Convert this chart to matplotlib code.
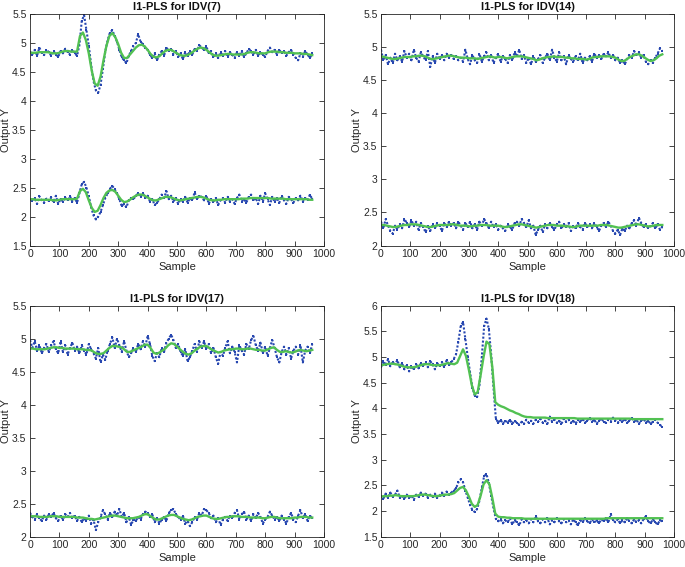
import numpy as np
import matplotlib
matplotlib.use("Agg")
import matplotlib.pyplot as plt
from matplotlib.ticker import FuncFormatter, MultipleLocator

plt.rcParams['font.family'] = ['Liberation Sans', 'DejaVu Sans']

titles = ["l1-PLS for IDV(7)", "l1-PLS for IDV(14)", "l1-PLS for IDV(17)", "l1-PLS for IDV(18)"]
ylims = [(1.5, 5.5), (2.0, 5.5), (2.0, 5.5), (1.5, 6.0)]

# ---------------- IDV(7) ----------------
idv7_up_fit = [4.83, 4.83, 4.83, 4.84, 4.84, 4.84, 4.84, 4.83, 4.82, 4.82,
               4.83, 4.85, 4.86, 4.86, 4.85, 4.85, 4.85, 5.12, 5.18, 5.05,
               4.82, 4.52, 4.30, 4.26, 4.42, 4.70, 4.95, 5.12, 5.17, 5.10,
               4.98, 4.83, 4.74, 4.74, 4.80, 4.86, 4.92, 4.96, 4.97, 4.94,
               4.88, 4.81, 4.76, 4.75, 4.77, 4.82, 4.86, 4.88, 4.88, 4.85,
               4.82, 4.79, 4.78, 4.78, 4.80, 4.83, 4.87, 4.90, 4.92, 4.91,
               4.88, 4.84, 4.80, 4.78, 4.78, 4.79, 4.80, 4.81, 4.81, 4.80,
               4.80, 4.80, 4.80, 4.81, 4.83, 4.84, 4.84, 4.83, 4.82, 4.82,
               4.82, 4.84, 4.85, 4.85, 4.85, 4.84, 4.84, 4.83, 4.83, 4.83,
               4.82, 4.82, 4.82, 4.81, 4.81, 4.80, 4.79]
idv7_up_meas = [4.85, 4.80, 4.88, 4.78, 4.92, 4.83, 4.79, 4.88, 4.84, 4.78,
                4.86, 4.80, 4.76, 4.86, 4.82, 4.90, 4.84, 4.80, 4.88, 4.82,
                4.78, 4.96, 5.38, 5.48, 5.22, 4.95, 4.62, 4.34, 4.18, 4.14,
                4.28, 4.55, 4.85, 5.05, 5.18, 5.22, 5.12, 5.02, 4.88, 4.75,
                4.70, 4.65, 4.78, 4.86, 4.95, 5.00, 5.15, 5.02, 4.98, 4.92,
                4.88, 4.80, 4.74, 4.82, 4.70, 4.80, 4.86, 4.78, 4.92, 4.86,
                4.90, 4.80, 4.86, 4.76, 4.82, 4.72, 4.84, 4.78, 4.86, 4.80,
                4.90, 4.86, 4.96, 4.92, 4.88, 4.94, 4.82, 4.86, 4.76, 4.82,
                4.74, 4.84, 4.78, 4.86, 4.76, 4.84, 4.80, 4.74, 4.84, 4.78,
                4.86, 4.76, 4.82, 4.90, 4.86, 4.80, 4.88, 4.78, 4.84, 4.80,
                4.76, 4.86, 4.92, 4.84, 4.88, 4.80, 4.88, 4.82, 4.86, 4.78,
                4.84, 4.88, 4.80, 4.74, 4.70, 4.82, 4.76, 4.86, 4.80, 4.74,
                4.82]
idv7_lo_fit = [2.30, 2.30, 2.29, 2.29, 2.29, 2.29, 2.29, 2.29, 2.28, 2.28,
               2.29, 2.30, 2.30, 2.30, 2.30, 2.30, 2.31, 2.44, 2.48, 2.42,
               2.28, 2.15, 2.08, 2.10, 2.20, 2.32, 2.41, 2.45, 2.46, 2.43,
               2.36, 2.29, 2.25, 2.26, 2.29, 2.33, 2.36, 2.38, 2.38, 2.36,
               2.33, 2.30, 2.28, 2.28, 2.30, 2.32, 2.34, 2.34, 2.33, 2.31,
               2.29, 2.28, 2.29, 2.30, 2.31, 2.32, 2.33, 2.34, 2.34, 2.33,
               2.31, 2.29, 2.28, 2.28, 2.29, 2.29, 2.30, 2.30, 2.30, 2.30,
               2.30, 2.30, 2.31, 2.31, 2.31, 2.32, 2.32, 2.32, 2.32, 2.32,
               2.32, 2.32, 2.31, 2.31, 2.31, 2.31, 2.31, 2.30, 2.30, 2.30,
               2.30, 2.30, 2.30, 2.30, 2.30, 2.29, 2.29]
idv7_lo_meas = [2.30, 2.27, 2.32, 2.22, 2.35, 2.28, 2.24, 2.31, 2.27, 2.33,
                2.25, 2.36, 2.22, 2.30, 2.26, 2.33, 2.28, 2.35, 2.26, 2.32,
                2.24, 2.40, 2.56, 2.60, 2.50, 2.35, 2.16, 2.02, 1.95, 2.00,
                2.08, 2.20, 2.32, 2.40, 2.48, 2.53, 2.47, 2.40, 2.30, 2.18,
                2.22, 2.16, 2.28, 2.32, 2.30, 2.36, 2.40, 2.34, 2.40, 2.32,
                2.36, 2.26, 2.30, 2.20, 2.24, 2.30, 2.38, 2.32, 2.44, 2.30,
                2.36, 2.26, 2.32, 2.22, 2.30, 2.26, 2.34, 2.24, 2.32, 2.28,
                2.42, 2.30, 2.36, 2.34, 2.28, 2.36, 2.22, 2.30, 2.26, 2.32,
                2.20, 2.28, 2.32, 2.24, 2.34, 2.26, 2.30, 2.22, 2.32, 2.38,
                2.26, 2.30, 2.24, 2.34, 2.38, 2.28, 2.32, 2.22, 2.36, 2.26,
                2.40, 2.30, 2.20, 2.34, 2.26, 2.32, 2.24, 2.36, 2.28, 2.22,
                2.34, 2.30, 2.24, 2.32, 2.28, 2.36, 2.26, 2.32, 2.28, 2.38,
                2.30]

# ---------------- IDV(14) ----------------
idv14_up_fit = [4.86, 4.85, 4.84, 4.83, 4.82, 4.82, 4.83, 4.84, 4.85, 4.85,
                4.85, 4.86, 4.86, 4.87, 4.87, 4.86, 4.84, 4.82, 4.82, 4.83,
                4.84, 4.85, 4.86, 4.87, 4.87, 4.86, 4.85, 4.84, 4.84, 4.84,
                4.83, 4.83, 4.83, 4.82, 4.83, 4.84, 4.85, 4.86, 4.85, 4.84,
                4.85, 4.85, 4.84, 4.83, 4.84, 4.85, 4.86, 4.86, 4.86, 4.85,
                4.84, 4.83, 4.82, 4.80, 4.81, 4.83, 4.84, 4.85, 4.85, 4.86,
                4.85, 4.85, 4.85, 4.84, 4.84, 4.83, 4.83, 4.82, 4.82, 4.82,
                4.81, 4.82, 4.84, 4.85, 4.85, 4.86, 4.86, 4.86, 4.86, 4.85,
                4.84, 4.81, 4.79, 4.79, 4.82, 4.85, 4.87, 4.89, 4.89, 4.87,
                4.84, 4.81, 4.79, 4.80, 4.83, 4.87, 4.89]
idv14_up_meas = [4.96, 4.80, 4.88, 4.74, 4.84, 4.76, 4.90, 4.80, 4.86, 4.78,
                 4.94, 4.84, 4.90, 4.80, 4.96, 4.84, 4.78, 4.92, 4.86, 4.80,
                 4.94, 4.70, 4.86, 4.76, 4.90, 4.82, 4.88, 4.80, 4.90, 4.84,
                 4.88, 4.82, 4.86, 4.80, 4.84, 4.78, 4.96, 4.82, 4.74, 4.88,
                 4.80, 4.76, 4.90, 4.78, 4.86, 4.92, 4.80, 4.88, 4.76, 4.84,
                 4.90, 4.78, 4.86, 4.82, 4.76, 4.88, 4.80, 4.92, 4.86, 4.96,
                 4.82, 4.88, 4.76, 4.84, 4.74, 4.86, 4.78, 4.82, 4.88, 4.76,
                 4.84, 4.90, 4.80, 4.96, 4.84, 4.78, 4.92, 4.80, 4.86, 4.74,
                 4.88, 4.82, 4.78, 4.86, 4.80, 4.90, 4.76, 4.84, 4.80, 4.86,
                 4.78, 4.90, 4.84, 4.88, 4.82, 4.90, 4.86, 4.92, 4.84, 4.88,
                 4.80, 4.84, 4.76, 4.80, 4.74, 4.82, 4.88, 4.84, 4.94, 4.88,
                 4.92, 4.84, 4.88, 4.78, 4.74, 4.80, 4.76, 4.84, 4.90, 4.98,
                 4.94]
idv14_lo_fit = [2.31, 2.31, 2.30, 2.29, 2.28, 2.28, 2.29, 2.30, 2.31, 2.31,
                2.32, 2.32, 2.32, 2.31, 2.30, 2.29, 2.28, 2.28, 2.29, 2.30,
                2.31, 2.31, 2.31, 2.31, 2.32, 2.32, 2.31, 2.30, 2.30, 2.30,
                2.29, 2.29, 2.30, 2.30, 2.31, 2.31, 2.31, 2.30, 2.30, 2.30,
                2.30, 2.29, 2.28, 2.28, 2.29, 2.30, 2.31, 2.32, 2.32, 2.31,
                2.30, 2.29, 2.28, 2.27, 2.28, 2.29, 2.30, 2.31, 2.31, 2.31,
                2.30, 2.30, 2.30, 2.29, 2.29, 2.28, 2.28, 2.29, 2.30, 2.30,
                2.30, 2.30, 2.30, 2.30, 2.30, 2.31, 2.31, 2.31, 2.30, 2.29,
                2.28, 2.27, 2.27, 2.28, 2.29, 2.30, 2.31, 2.32, 2.32, 2.31,
                2.30, 2.29, 2.29, 2.30, 2.31, 2.31, 2.31]
idv14_lo_meas = [2.36, 2.26, 2.40, 2.30, 2.22, 2.18, 2.30, 2.24, 2.32, 2.26,
                 2.40, 2.34, 2.28, 2.38, 2.30, 2.36, 2.24, 2.34, 2.28, 2.20,
                 2.30, 2.22, 2.32, 2.26, 2.34, 2.30, 2.22, 2.34, 2.28, 2.36,
                 2.30, 2.34, 2.26, 2.36, 2.30, 2.24, 2.34, 2.28, 2.36, 2.26,
                 2.32, 2.24, 2.36, 2.30, 2.40, 2.34, 2.26, 2.36, 2.28, 2.32,
                 2.24, 2.30, 2.26, 2.22, 2.32, 2.28, 2.24, 2.34, 2.36, 2.30,
                 2.40, 2.34, 2.28, 2.38, 2.26, 2.30, 2.16, 2.24, 2.30, 2.20,
                 2.32, 2.26, 2.34, 2.28, 2.24, 2.32, 2.36, 2.26, 2.32, 2.28,
                 2.34, 2.22, 2.30, 2.26, 2.34, 2.28, 2.24, 2.34, 2.28, 2.32,
                 2.26, 2.34, 2.28, 2.22, 2.30, 2.34, 2.28, 2.36, 2.30, 2.22,
                 2.18, 2.24, 2.16, 2.26, 2.22, 2.30, 2.26, 2.34, 2.38, 2.30,
                 2.42, 2.34, 2.28, 2.32, 2.26, 2.30, 2.34, 2.26, 2.32, 2.24,
                 2.28]

# ---------------- IDV(17) ----------------
idv17_up_fit = [4.85, 4.85, 4.84, 4.84, 4.84, 4.84, 4.85, 4.86, 4.87, 4.87,
                4.86, 4.86, 4.85, 4.85, 4.85, 4.85, 4.84, 4.84, 4.84, 4.83,
                4.83, 4.82, 4.79, 4.77, 4.77, 4.78, 4.82, 4.86, 4.89, 4.89,
                4.88, 4.87, 4.84, 4.80, 4.80, 4.82, 4.84, 4.86, 4.88, 4.91,
                4.91, 4.86, 4.79, 4.77, 4.79, 4.82, 4.85, 4.90, 4.93, 4.92,
                4.88, 4.84, 4.80, 4.77, 4.76, 4.78, 4.82, 4.85, 4.88, 4.89,
                4.89, 4.86, 4.83, 4.81, 4.79, 4.80, 4.82, 4.83, 4.84, 4.84,
                4.85, 4.85, 4.84, 4.84, 4.85, 4.85, 4.84, 4.83, 4.83, 4.82,
                4.82, 4.84, 4.86, 4.87, 4.83, 4.80, 4.80, 4.81, 4.80, 4.79,
                4.80, 4.82, 4.83, 4.82, 4.81, 4.82, 4.83]
idv17_up_meas = [4.98, 4.86, 4.96, 4.82, 4.90, 4.78, 4.86, 4.92, 4.80, 4.90,
                 4.96, 4.84, 4.78, 4.96, 4.80, 4.90, 4.76, 4.86, 4.94, 4.82,
                 4.88, 4.78, 4.90, 4.82, 4.76, 4.92, 4.84, 4.78, 4.70, 4.86,
                 4.64, 4.76, 4.68, 4.82, 4.92, 5.02, 4.86, 5.00, 4.90, 4.80,
                 4.96, 4.82, 4.72, 4.78, 4.86, 4.80, 4.92, 4.84, 4.96, 4.88,
                 5.04, 4.92, 4.74, 4.66, 4.78, 4.72, 4.86, 4.80, 4.94, 5.00,
                 5.06, 4.98, 4.86, 4.92, 4.80, 4.74, 4.84, 4.66, 4.72, 4.82,
                 4.92, 4.80, 4.96, 4.86, 4.96, 4.84, 4.92, 4.78, 4.86, 4.72,
                 4.62, 4.80, 4.74, 4.86, 4.96, 4.78, 4.88, 4.80, 4.64, 4.90,
                 4.82, 4.76, 4.92, 4.84, 4.98, 5.04, 4.90, 4.82, 4.94, 4.78,
                 4.88, 4.74, 4.86, 4.98, 4.86, 4.72, 4.64, 4.80, 4.88, 4.76,
                 4.86, 4.70, 4.82, 4.88, 4.76, 4.90, 4.64, 4.82, 4.88, 4.78,
                 4.92]
idv17_lo_fit = [2.31, 2.31, 2.31, 2.30, 2.30, 2.30, 2.30, 2.31, 2.31, 2.31,
                2.30, 2.30, 2.30, 2.30, 2.30, 2.30, 2.29, 2.29, 2.29, 2.28,
                2.27, 2.27, 2.26, 2.27, 2.28, 2.29, 2.30, 2.31, 2.32, 2.32,
                2.31, 2.30, 2.29, 2.28, 2.28, 2.28, 2.29, 2.30, 2.32, 2.34,
                2.34, 2.31, 2.28, 2.26, 2.26, 2.28, 2.30, 2.32, 2.33, 2.33,
                2.31, 2.29, 2.27, 2.26, 2.25, 2.26, 2.28, 2.30, 2.31, 2.32,
                2.32, 2.30, 2.28, 2.27, 2.27, 2.28, 2.29, 2.30, 2.30, 2.31,
                2.31, 2.31, 2.30, 2.30, 2.30, 2.29, 2.29, 2.29, 2.29, 2.28,
                2.28, 2.29, 2.30, 2.30, 2.29, 2.28, 2.28, 2.28, 2.28, 2.28,
                2.29, 2.29, 2.30, 2.30, 2.30, 2.29, 2.29]
idv17_lo_meas = [2.36, 2.30, 2.26, 2.34, 2.28, 2.24, 2.32, 2.26, 2.34, 2.30,
                 2.36, 2.28, 2.24, 2.32, 2.26, 2.34, 2.30, 2.36, 2.28, 2.32,
                 2.24, 2.30, 2.22, 2.28, 2.24, 2.32, 2.20, 2.26, 2.10, 2.22,
                 2.30, 2.40, 2.34, 2.26, 2.36, 2.30, 2.38, 2.32, 2.42, 2.30,
                 2.36, 2.22, 2.30, 2.18, 2.26, 2.24, 2.30, 2.26, 2.34, 2.38,
                 2.36, 2.30, 2.34, 2.22, 2.28, 2.20, 2.26, 2.30, 2.24, 2.36,
                 2.40, 2.42, 2.34, 2.30, 2.26, 2.32, 2.20, 2.24, 2.16, 2.22,
                 2.30, 2.26, 2.36, 2.32, 2.42, 2.40, 2.36, 2.28, 2.32, 2.22,
                 2.28, 2.18, 2.26, 2.30, 2.24, 2.32, 2.28, 2.36, 2.40, 2.26,
                 2.34, 2.38, 2.26, 2.32, 2.24, 2.34, 2.28, 2.36, 2.30, 2.20,
                 2.26, 2.30, 2.38, 2.32, 2.26, 2.30, 2.24, 2.32, 2.26, 2.20,
                 2.30, 2.36, 2.26, 2.22, 2.32, 2.40, 2.28, 2.34, 2.24, 2.32,
                 2.28]

# ---------------- IDV(18) ----------------
idv18_up_fit = [4.84, 4.85, 4.86, 4.87, 4.87, 4.86, 4.85, 4.83, 4.81, 4.80,
                4.80, 4.80, 4.81, 4.83, 4.85, 4.86, 4.86, 4.85, 4.84, 4.84,
                4.84, 4.85, 4.87, 4.88, 4.87, 4.86, 4.89, 5.02, 5.15, 5.02,
                4.75, 4.45, 4.27, 4.32, 4.65, 5.00, 5.30, 5.25, 4.80, 4.12,
                4.07, 4.04, 4.02, 3.99, 3.96, 3.94, 3.91, 3.89, 3.86, 3.84,
                3.83, 3.83, 3.82, 3.82, 3.82, 3.82, 3.82, 3.81, 3.81, 3.81,
                3.81, 3.81, 3.81, 3.81, 3.81, 3.81, 3.81, 3.80, 3.80, 3.80,
                3.80, 3.80, 3.80, 3.80, 3.80, 3.80, 3.80, 3.80, 3.80, 3.80,
                3.80, 3.80, 3.80, 3.80, 3.80, 3.80, 3.79, 3.79, 3.79, 3.79,
                3.79, 3.79, 3.79, 3.79, 3.79, 3.79, 3.79]
idv18_up_meas = [4.80, 4.92, 4.84, 4.96, 4.82, 4.90, 4.86, 4.94, 4.80, 4.88,
                 4.76, 4.84, 4.72, 4.82, 4.76, 4.86, 4.78, 4.88, 4.82, 4.90,
                 4.80, 4.92, 4.86, 4.76, 4.88, 4.82, 4.90, 4.80, 4.94, 4.84,
                 4.90, 4.96, 5.05, 5.30, 5.60, 5.68, 5.35, 5.00, 4.70, 4.40,
                 4.25, 4.22, 4.45, 5.00, 5.60, 5.75, 5.55, 5.05, 4.40, 3.80,
                 3.72, 3.78, 3.70, 3.76, 3.72, 3.78, 3.70, 3.76, 3.72, 3.68,
                 3.74, 3.70, 3.78, 3.72, 3.76, 3.70, 3.78, 3.74, 3.80, 3.72,
                 3.76, 3.70, 3.84, 3.74, 3.78, 3.72, 3.76, 3.70, 3.80, 3.74,
                 3.78, 3.72, 3.76, 3.70, 3.78, 3.74, 3.80, 3.72, 3.76, 3.82,
                 3.74, 3.78, 3.70, 3.76, 3.80, 3.74, 3.72, 3.78, 3.74, 3.82,
                 3.76, 3.72, 3.78, 3.74, 3.80, 3.72, 3.76, 3.82, 3.74, 3.78,
                 3.70, 3.76, 3.80, 3.72, 3.76, 3.70, 3.74, 3.78, 3.72, 3.68,
                 3.64]
idv18_lo_fit = [2.28, 2.29, 2.29, 2.30, 2.30, 2.31, 2.30, 2.29, 2.29, 2.29,
                2.29, 2.29, 2.30, 2.31, 2.32, 2.32, 2.31, 2.30, 2.29, 2.29,
                2.30, 2.31, 2.32, 2.32, 2.33, 2.35, 2.40, 2.45, 2.47, 2.40,
                2.28, 2.14, 2.08, 2.12, 2.30, 2.52, 2.60, 2.52, 2.25, 1.95,
                1.89, 1.88, 1.88, 1.87, 1.87, 1.86, 1.86, 1.86, 1.86, 1.85,
                1.85, 1.85, 1.85, 1.85, 1.85, 1.85, 1.85, 1.85, 1.85, 1.85,
                1.85, 1.85, 1.85, 1.85, 1.85, 1.85, 1.85, 1.85, 1.85, 1.85,
                1.85, 1.85, 1.85, 1.85, 1.85, 1.85, 1.85, 1.86, 1.86, 1.86,
                1.86, 1.86, 1.86, 1.86, 1.86, 1.86, 1.86, 1.86, 1.86, 1.86,
                1.86, 1.86, 1.86, 1.86, 1.86, 1.86, 1.86]
idv18_lo_meas = [2.30, 2.24, 2.34, 2.26, 2.36, 2.28, 2.32, 2.40, 2.26, 2.30,
                 2.24, 2.32, 2.26, 2.30, 2.22, 2.32, 2.28, 2.36, 2.30, 2.34,
                 2.26, 2.32, 2.28, 2.34, 2.26, 2.30, 2.36, 2.30, 2.38, 2.32,
                 2.36, 2.40, 2.44, 2.56, 2.62, 2.56, 2.40, 2.26, 2.12, 2.02,
                 1.98, 2.04, 2.20, 2.45, 2.68, 2.72, 2.55, 2.30, 2.05, 1.85,
                 1.80, 1.84, 1.76, 1.82, 1.78, 1.86, 1.74, 1.82, 1.78, 1.72,
                 1.84, 1.78, 1.82, 1.76, 1.84, 1.78, 1.90, 1.80, 1.76, 1.84,
                 1.78, 1.86, 1.74, 1.82, 1.78, 1.86, 1.80, 1.76, 1.84, 1.78,
                 1.82, 1.74, 1.84, 1.78, 1.72, 1.82, 1.78, 1.86, 1.80, 1.76,
                 1.84, 1.78, 1.82, 1.76, 1.84, 1.80, 1.86, 1.78, 1.94, 1.82,
                 1.78, 1.84, 1.76, 1.82, 1.78, 1.86, 1.80, 1.76, 1.84, 1.78,
                 1.82, 1.76, 1.84, 1.90, 1.80, 1.76, 1.84, 1.78, 1.74, 1.82,
                 1.80]

panels = [
    (idv7_up_meas, idv7_up_fit, idv7_lo_meas, idv7_lo_fit),
    (idv14_up_meas, idv14_up_fit, idv14_lo_meas, idv14_lo_fit),
    (idv17_up_meas, idv17_up_fit, idv17_lo_meas, idv17_lo_fit),
    (idv18_up_meas, idv18_up_fit, idv18_lo_meas, idv18_lo_fit),
]

BLUE = '#2747b0'
GREEN = '#52c152'
AXC = '#262626'

W, H = 685, 567
fig = plt.figure(figsize=(W / 100, H / 100), dpi=100)
boxes = [(30, 14, 324, 245.5), (381, 14, 674, 245.5),
         (30, 305.7, 324, 536.7), (381, 305.7, 674, 536.7)]

fmt = FuncFormatter(lambda v, p: '%g' % v)

for k, (box, data) in enumerate(zip(boxes, panels)):
    x0, y0, x1, y1 = box
    ax = fig.add_axes([x0 / W, 1 - y1 / H, (x1 - x0) / W, (y1 - y0) / H])
    um, uf, lm, lf = data
    for meas, fit in ((um, uf), (lm, lf)):
        xm = np.linspace(0, 960, len(meas))
        xf = np.linspace(0, 960, len(fit))
        ax.plot(xm, meas, linestyle=(0, (1.0, 0.9)), color=BLUE, linewidth=1.5,
                marker='s', markersize=1.6, markeredgewidth=0)
        ax.plot(xf, fit, linestyle='-', color=GREEN, linewidth=1.7)
    ax.set_xlim(0, 1000)
    ax.set_ylim(*ylims[k])
    ax.xaxis.set_major_locator(MultipleLocator(100))
    ax.yaxis.set_major_locator(MultipleLocator(0.5))
    ax.xaxis.set_major_formatter(fmt)
    ax.yaxis.set_major_formatter(fmt)
    ax.tick_params(direction='in', top=True, right=True, length=3.5, width=0.6,
                   labelsize=7.5, colors=AXC, pad=2.5)
    for sp in ax.spines.values():
        sp.set_color(AXC)
        sp.set_linewidth(0.6)
    ax.set_title(titles[k], fontsize=8, fontweight='bold', color='#111111', pad=3)
    ax.set_xlabel('Sample', fontsize=8, color=AXC, labelpad=2)
    ax.set_ylabel('Output Y', fontsize=8, color=AXC, labelpad=1)

fig.savefig('out.png', dpi=100)
